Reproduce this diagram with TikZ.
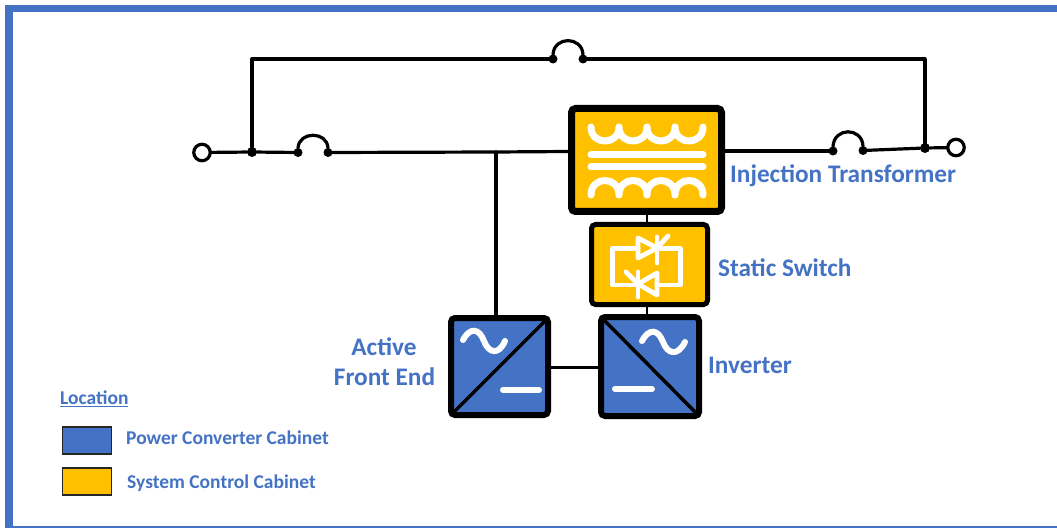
\documentclass[tikz,border=0pt]{standalone}
\usepackage{fontspec}
\setmainfont{Carlito}
\definecolor{cblue}{HTML}{4472C4}
\definecolor{cgold}{HTML}{FFC000}
\tikzset{
  wire/.style={draw=black,line width=3.2pt,line cap=round,line join=round},
  thin wire/.style={draw=black,line width=2.4pt},
  term/.style={circle,draw=black,fill=white,line width=3.2pt,minimum size=16.5pt,inner sep=0pt,outer sep=0pt},
  jdot/.style={circle,fill=black,minimum size=10pt,inner sep=0pt,outer sep=0pt},
  bdot/.style={circle,fill=black,minimum size=9pt,inner sep=0pt,outer sep=0pt},
  cab/.style={rectangle,draw=black,rounded corners=4pt,inner sep=0pt,outer sep=0pt},
  sym/.style={draw=white,line cap=round,line join=round,line width=7pt},
  csym/.style={draw=white,line width=6pt,line cap=round},
  lab/.style={text=cblue,font=\fontsize{25.3}{28}\selectfont\bfseries,inner sep=0pt,anchor=west},
  leg/.style={text=cblue,font=\fontsize{19.5}{22}\selectfont\bfseries,inner sep=0pt,anchor=west},
  swatch/.style={rectangle,draw=black!85,line width=1.6pt,minimum width=49pt,minimum height=27.5pt,inner sep=0pt}
}
\newcommand{\uarc}[3]{(#1,#2) .. controls (#1,#2+#3*1.333) and (#1+28,#2+#3*1.333) .. (#1+28,#2)}
\begin{document}
\begin{tikzpicture}[x=1pt,y=-1pt]
\useasboundingbox (0,0) rectangle (1057,529);
\fill[white] (0,0) rectangle (1057,529);
% frame
\fill[cblue] (5,5) rectangle (1057,12.5);
\fill[cblue] (5,5) rectangle (12.5,528);
\fill[cblue] (5,526) rectangle (1057,528);

% cabinets
\node[cab,line width=7pt,fill=cgold,minimum width=150pt,minimum height=103pt] (tr) at (646.5,160) {};
\node[cab,line width=5pt,fill=cgold,minimum width=116pt,minimum height=80pt] (ss) at (649.5,264.5) {};
\node[cab,line width=6pt,fill=cblue,minimum width=97pt,minimum height=97pt] (afe) at (499.5,366.5) {};
\node[cab,line width=6pt,fill=cblue,minimum width=98pt,minimum height=99pt] (inv) at (650,366.5) {};

% nodes of the line
\node[term] (tl) at (202,152.5) {};
\node[term] (tr2) at (956,147.5) {};
\node[jdot] (j1) at (252,152) {};
\node[jdot] (j2) at (925,148) {};
\node[bdot] (b1a) at (298,152.5) {};
\node[bdot] (b1b) at (328,152.5) {};
\node[bdot] (b2a) at (833,151) {};
\node[bdot] (b2b) at (863,150.5) {};
\node[bdot] (b3a) at (553,59) {};
\node[bdot] (b3b) at (583,59) {};
\coordinate (c1) at (252,59);
\coordinate (c2) at (925,59);
\coordinate (trL) at (568,151.5);
\coordinate (trR) at (725,151);
\coordinate (tee) at (496,152);
\coordinate (afeT) at (496,315);
\coordinate (trB) at (647,215);
\coordinate (ssT) at (647,222);
\coordinate (ssB) at (647,307);
\coordinate (invT) at (647,314);
\coordinate (afeR) at (551,367.5);
\coordinate (invL) at (598,367.5);

% connectors
\draw[wire] (tl) -- (j1) -- (b1a);
\draw[wire] (b1b) -- (tee) -- (trL);
\draw[wire] (tee) -- (afeT);
\draw[wire] (trR) -- (b2a);
\draw[wire] (b2b) -- (j2) -- (tr2);
\draw[wire] (j1) -- (c1) -- (b3a);
\draw[wire] (b3b) -- (c2) -- (j2);
\draw[thin wire] (trB) -- (ssT);
\draw[thin wire] (ssB) -- (invT);
\draw[wire] (afeR) -- (invL);
\draw[wire] (b1a.north) .. controls (299,131) and (327,131) .. (b1b.north);
\draw[wire] (b2a.north) .. controls (834,127) and (862,127) .. (b2b.north);
\draw[wire] (b3a.north) .. controls (554,36) and (582,36) .. (b3b.north);

% transformer symbol
\draw[sym] \uarc{591}{127}{14} \uarc{619}{127}{14} \uarc{647}{127}{14} \uarc{675}{127}{14};
\draw[sym] (591,154.5) -- (703,154.5);
\draw[sym] (591,167) -- (703,167);
\draw[sym] \uarc{591}{195}{-14.5} \uarc{619}{195}{-14.5} \uarc{647}{195}{-14.5} \uarc{675}{195}{-14.5};

% static switch symbol
\begin{scope}[draw=white,line width=4.8pt,line cap=round,line join=round]
\draw (638,248.5) -- (612.5,248.5) -- (612.5,285) -- (638,285);
\draw (657,248.5) -- (680.5,248.5) -- (680.5,285) -- (657,285);
\draw (638,238) -- (657,248) -- (638,258) -- cycle;
\draw (657,237) -- (657,263);
\draw (657,248) -- (668,236);
\draw (657,273) -- (638,284) -- (657,295) -- cycle;
\draw (638,272) -- (638,297);
\draw (638,284) -- (626,272);
\end{scope}

% converter symbols
\draw[line width=3.5pt,line cap=round] (afe.south west) -- (afe.north east);
\draw[line width=3.5pt,line cap=round] (inv.north west) -- (inv.south east);
\draw[csym] (463,340) .. controls (470,327) and (479,328) .. (484,341) .. controls (489,354) and (499,355) .. (505,341);
\draw[csym] (642,341) .. controls (649,328) and (658,329) .. (663,342) .. controls (668,355) and (678,356) .. (685,342);
\draw[csym] (503,390) -- (539,390);
\draw[csym] (615,389) -- (652,389);

% labels
\node[lab] (ltr) at (730,175.5) {Injection Transformer};
\node[lab] (lss) at (718,267.5) {Static Switch};
\node[lab] (linv) at (708,365.5) {Inverter};
\node[lab,anchor=center] (lafe1) at (384,346.5) {Active};
\node[lab,anchor=center] (lafe2) at (384.5,376.5) {Front End};

% legend
\node[leg] (lloc) at (60,399) {\underline{Location}};
\node[swatch,fill=cblue] (s1) at (87,440.5) {};
\node[swatch,fill=cgold] (s2) at (87,481.5) {};
\node[leg] (t1) at (126,437.5) {Power Converter Cabinet};
\node[leg] (t2) at (127,483) {System Control Cabinet};
\end{tikzpicture}
\end{document}
